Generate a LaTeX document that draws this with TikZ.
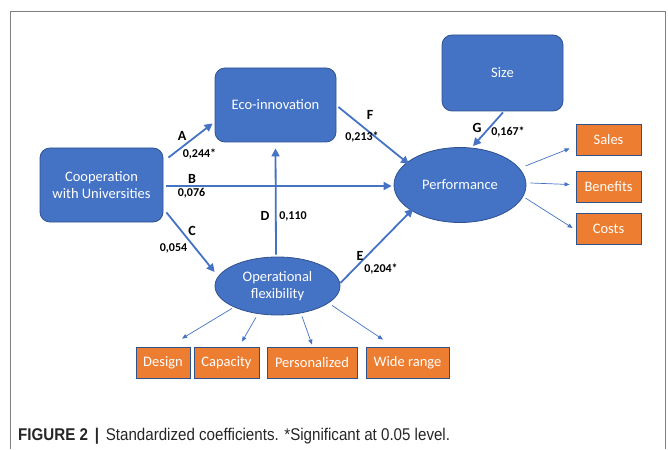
\documentclass[tikz,border=0pt]{standalone}
\usepackage{fontspec}
\setmainfont{Carlito}
\newfontfamily\capfont{Liberation Sans}
\usetikzlibrary{arrows.meta,shapes.geometric,calc}
\definecolor{oblue}{HTML}{4472C4}
\definecolor{oborder}{HTML}{2F528F}
\definecolor{oorange}{HTML}{ED7D31}
\definecolor{frame}{HTML}{808080}
\tikzset{
  bluebox/.style={draw=oborder, line width=0.8pt, fill=oblue, rounded corners=10pt, text=white, font=\fontsize{14.5}{17}\selectfont, align=center, inner sep=0pt},
  blueell/.style={ellipse, draw=oborder, line width=0.8pt, fill=oblue, text=white, font=\fontsize{14.5}{17}\selectfont, align=center, inner sep=0pt},
  orbox/.style={draw=oborder, line width=0.8pt, fill=oorange, text=white, font=\fontsize{14.5}{16}\selectfont, inner sep=0pt, minimum height=31pt},
  thick arr/.style={draw=oblue, line width=1.8pt, -{Triangle[length=8pt,width=8pt]}},
  thin arr/.style={draw=oblue, line width=0.7pt, -{Triangle[length=5pt,width=4pt]}},
  lab/.style={font=\bfseries\fontsize{14}{16}\selectfont, inner sep=0pt},
  coef/.style={font=\bfseries\fontsize{12}{14}\selectfont, inner sep=0pt},
}
\begin{document}
\begin{tikzpicture}[x=1pt,y=-1pt]
\useasboundingbox (0,0) rectangle (668,449);
\draw[frame, line width=0.9pt] (10.5,449) -- (10.5,11) -- (665,11) -- (665,449);
% main nodes
\node[bluebox, minimum width=123pt, minimum height=74pt] (coop) at (101.5,185) {Cooperation\\with Universities};
\node[bluebox, minimum width=121pt, minimum height=74pt] (eco) at (275.5,105) {Eco-innovation};
\node[bluebox, minimum width=121pt, minimum height=76pt] (size) at (502.5,73) {Size};
\node[blueell, minimum width=132pt, minimum height=75pt] (perf) at (460,185) {Performance};
\node[blueell, minimum width=125pt, minimum height=58pt] (opf) at (277.5,286) {Operational\\flexibility};
% orange indicator boxes
\node[orbox, minimum width=65pt] (sales) at (608.5,139.5) {Sales};
\node[orbox, minimum width=65pt] (ben) at (608.5,186.5) {Benefits};
\node[orbox, minimum width=65pt] (costs) at (608.5,229) {Costs};
\node[orbox, minimum width=54pt] (design) at (163,362.5) {Design};
\node[orbox, minimum width=65pt] (cap) at (226.5,362.5) {Capacity};
\node[orbox, minimum width=90pt] (pers) at (312,362.5) {Personalized};
\node[orbox, minimum width=83pt] (wide) at (407.5,362.5) {Wide range};
% thick arrows
\draw[thick arr] ($(coop.north east)+(5,10)$) -- ($(eco.south west)+(-2,-19)$);
\draw[thick arr] ($(coop.east)+(3,1)$) -- ($(perf.west)+(-2,1)$);
\draw[thick arr] ($(coop.south east)+(3,-10)$) -- ($(opf.west)+(0,-14)$);
\draw[thick arr] ($(opf.north)+(-1.5,-2)$) -- ($(eco.south)+(0,6)$);
\draw[thick arr] ($(opf.east)+(0,-3)$) -- ($(perf.south west)+(0,-3)$);
\draw[thick arr] ($(eco.east)+(2,2)$) -- ($(perf.north west)+(-4,6)$);
\draw[thick arr] ($(size.south)+(0.5,1)$) -- ($(perf.north)+(13,-1)$);
% thin arrows
\draw[thin arr] ($(perf.east)+(-1,-19)$) -- ($(sales.west)+(-6,9)$);
\draw[thin arr] ($(perf.east)+(4,-2)$) -- ($(ben.west)+(-6,-2)$);
\draw[thin arr] ($(perf.east)+(-1,13)$) -- ($(costs.west)+(-3,-1)$);
\draw[thin arr] ($(opf.south)+(-45.5,-7)$) -- ($(design.north)+(19,-8)$);
\draw[thin arr] ($(opf.south)+(-21.5,2)$) -- ($(cap.north)+(15.5,-5)$);
\draw[thin arr] ($(opf.south)+(24.5,1)$) -- ($(pers.north)+(0,-2)$);
\draw[thin arr] ($(opf.south)+(54.5,-10)$) -- ($(wide.north)+(-24.5,-7)$);
% path labels
\node[lab] (lA) at (182,136) {A};
\node[coef] (cA) at (199.5,154) {0,244*};
\node[lab] (lB) at (192,179) {B};
\node[coef] (cB) at (191.5,193) {0,076};
\node[lab] (lC) at (192,231) {C};
\node[coef] (cC) at (173.5,248) {0,054};
\node[lab] (lD) at (265,216) {D};
\node[coef] (cD) at (293,216) {0,110};
\node[lab] (lE) at (360,256) {E};
\node[coef] (cE) at (381,269) {0,204*};
\node[lab] (lF) at (370,115) {F};
\node[coef] (cF) at (362,137) {0,213*};
\node[lab] (lG) at (477,128) {G};
\node[coef] (cG) at (508,132) {0,167*};
% caption
\node[anchor=west, inner sep=0pt, text=black!85] (caption) at (18,436) {\scalebox{0.89}[1]{\capfont\fontsize{17}{19}\selectfont\textbf{FIGURE 2}\hspace{0.45em}\textbf{|}\hspace{0.45em}Standardized coefficients. *Significant at 0.05 level.}};
\end{tikzpicture}
\end{document}
